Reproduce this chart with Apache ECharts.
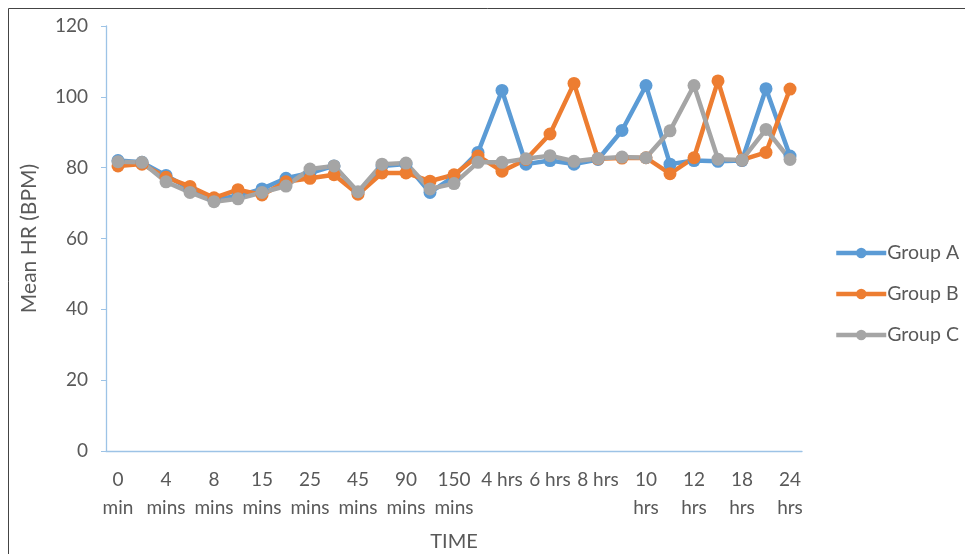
<!DOCTYPE html>
<html>
<head>
<meta charset="utf-8">
<script src="https://cdn.jsdelivr.net/npm/echarts@6/dist/echarts.min.js"></script>
<style>html,body{margin:0;padding:0;background:#fff}#c{width:965px;height:554px}</style>
</head>
<body>
<div id="c"></div>
<script>
const categories = ["0 min","2 mins","4 mins","6 mins","8 mins","10 mins","15 mins","20 mins","25 mins","30 mins","45 mins","60 mins","90 mins","120 mins","150 mins","3 hrs","4 hrs","5 hrs","6 hrs","7 hrs","8 hrs","9 hrs","10 hrs","11 hrs","12 hrs","15 hrs","18 hrs","21 hrs","24 hrs"];
const groupA = [82,81.5,77.8,74,71,72,74,77,78.5,80.5,73,80.5,81,73,77.5,84.3,101.8,81,82,81,82.3,90.5,103.2,81,82,81.8,82,102.3,83.3];
const groupB = [80.5,81,77.3,74.7,71.5,73.8,72.3,76,77,78,72.5,78.5,78.5,76.2,78,83.3,79,82.3,89.5,103.8,82.5,82.7,82.8,78.3,82.8,104.5,82.2,84.3,102.2];
const groupC = [81.7,81.5,76,73,70.4,71.2,73,74.8,79.6,80.5,73.2,81,81.3,74,75.5,81.5,81.5,82.5,83.4,81.8,82.6,83,82.8,90.4,103.2,82.4,82.2,90.8,82.3];
const yTicks = [0,20,40,60,80,100,120];
const seriesNames = ["Group A","Group B","Group C"];
const colors = ["#5B9BD5","#ED7D31","#A5A5A5"];
const values = [groupA, groupB, groupC];

const font = "Lato, 'Open Sans', sans-serif";
const chart = echarts.init(document.getElementById('c'));
chart.setOption({
  animation: false,
  color: colors,
  textStyle: {fontFamily: font},
  graphic: [{type:'rect', shape:{x:8.5,y:8.5,width:1000,height:600}, style:{fill:'none', stroke:'#444', lineWidth:1}, silent:true}],
  grid: {left: 106, right: 163, top: 26, bottom: 103, containLabel: false, outerBoundsMode: 'none'},
  legend: {
    orient: 'vertical', left: 829, top: 238,
    itemWidth: 50, itemHeight: 13, itemGap: 21,
    lineStyle: {width: 4.5},
    textStyle: {fontSize: 19.5, color: '#595959', fontFamily: font, padding:[0,0,0,-4]},
    data: seriesNames
  },
  xAxis: {
    type: 'category', data: categories, boundaryGap: true,
    name: 'TIME', nameLocation: 'middle', nameGap: 81,
    nameTextStyle: {fontSize: 20, color: '#595959', fontFamily: font},
    axisLine: {lineStyle: {color: '#9DC3E6', width: 1.3}},
    axisTick: {show: false},
    axisLabel: {
      interval: 1, fontSize: 19, color: '#595959', fontFamily: font, margin: 15, lineHeight: 28,
      formatter: v => /^\d hrs$/.test(v) ? v : v.replace(' ', '\n')
    },
    splitLine: {show: false}
  },
  yAxis: {
    type: 'value', min: yTicks[0], max: yTicks[yTicks.length-1], interval: yTicks[1]-yTicks[0],
    name: 'Mean HR (BPM)', nameLocation: 'middle', nameGap: 66, nameRotate: 90,
    nameTextStyle: {fontSize: 21, color: '#595959', fontFamily: font},
    axisLine: {show: true, lineStyle: {color: '#9DC3E6', width: 1.3}},
    axisTick: {show: true, length: 5, lineStyle: {color: '#9DC3E6'}},
    axisLabel: {fontSize: 19, color: '#595959', fontFamily: font, margin: 18},
    splitLine: {show: false}
  },
  series: seriesNames.map((n, i) => ({
    name: n, type: 'line', data: values[i],
    symbol: 'circle', symbolSize: 13,
    lineStyle: {width: 4.5, color: colors[i]},
    itemStyle: {color: colors[i]}
  }))
});
</script>
</body>
</html>
